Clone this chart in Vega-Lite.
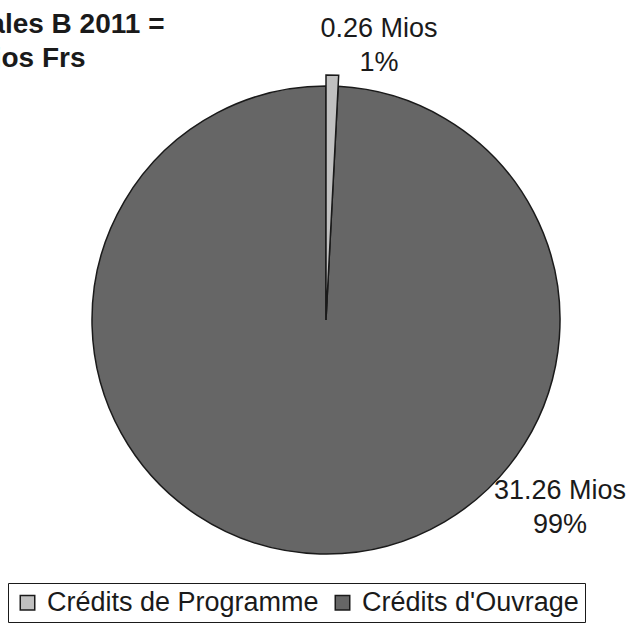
{
  "$schema": "https://vega.github.io/schema/vega-lite/v6.json",
  "width": 652,
  "height": 640,
  "autosize": {"type": "none"},
  "padding": 0,
  "background": "white",
  "title": {
    "text": ["Dépenses totales B 2011 =", "31.52 Mios Frs"],
    "anchor": "start",
    "align": "center",
    "frame": "group",
    "font": "Liberation Sans",
    "fontSize": 28,
    "fontWeight": "bold",
    "color": "#1a1a1a",
    "baseline": "alphabetic",
    "lineHeight": 34,
    "dx": -11,
    "dy": 95,
    "offset": 0
  },
  "data": {
    "values": [
      {"category": "Crédits de Programme", "value": 0.26, "label": ["0.26 Mios", "1%"]},
      {"category": "Crédits d'Ouvrage", "value": 31.26, "label": ["31.26 Mios", "99%"]}
    ]
  },
  "transform": [
    {"stack": "value", "groupby": [], "sort": [{"field": "value", "order": "ascending"}], "as": ["v0", "v1"]}
  ],
  "encoding": {
    "color": {
      "field": "category",
      "type": "nominal",
      "scale": {"domain": ["Crédits de Programme", "Crédits d'Ouvrage"], "range": ["#c0c0c0", "#666666"]},
      "legend": {
        "orient": "none",
        "legendX": 8,
        "legendY": 583,
        "direction": "horizontal",
        "title": null,
        "labelFont": "Liberation Sans",
        "labelFontSize": 27,
        "labelColor": "#1a1a1a",
        "labelLimit": 400,
        "labelOffset": 6,
        "symbolType": "square",
        "symbolSize": 210,
        "symbolStrokeColor": "#1a1a1a",
        "symbolStrokeWidth": 1.5,
        "columnPadding": 10,
        "strokeColor": "#1a1a1a",
        "fillColor": "white",
        "padding": 6
      }
    }
  },
  "layer": [
    {
      "transform": [{"filter": "datum.category === \"Crédits d'Ouvrage\""}],
      "mark": {"type": "arc", "outerRadius": 234, "stroke": "#1a1a1a", "strokeWidth": 1.5},
      "encoding": {
        "theta": {"field": "v0", "type": "quantitative", "scale": {"domain": [0, 31.52]}},
        "theta2": {"field": "v1"}
      }
    },
    {
      "transform": [{"filter": "datum.category === 'Crédits de Programme'"}],
      "mark": {"type": "arc", "outerRadius": 245, "stroke": "#1a1a1a", "strokeWidth": 1.5},
      "encoding": {
        "theta": {"field": "v0", "type": "quantitative", "scale": {"domain": [0, 31.52]}},
        "theta2": {"field": "v1"}
      }
    },
    {
      "transform": [{"filter": "datum.category === 'Crédits de Programme'"}],
      "mark": {"type": "text", "radius": 0, "font": "Liberation Sans", "fontSize": 27, "color": "#1a1a1a", "align": "center", "baseline": "middle", "lineHeight": 34, "dx": 53, "dy": -291},
      "encoding": {
        "theta": {"field": "v0", "type": "quantitative", "scale": {"domain": [0, 31.52]}},
        "text": {"field": "label"},
        "color": {"value": "#1a1a1a"}
      }
    },
    {
      "transform": [{"filter": "datum.category === \"Crédits d'Ouvrage\""}],
      "mark": {"type": "text", "radius": 0, "font": "Liberation Sans", "fontSize": 27, "color": "#1a1a1a", "align": "center", "baseline": "middle", "lineHeight": 34, "dx": 234, "dy": 171},
      "encoding": {
        "theta": {"field": "v0", "type": "quantitative", "scale": {"domain": [0, 31.52]}},
        "text": {"field": "label"},
        "color": {"value": "#1a1a1a"}
      }
    }
  ]
}
